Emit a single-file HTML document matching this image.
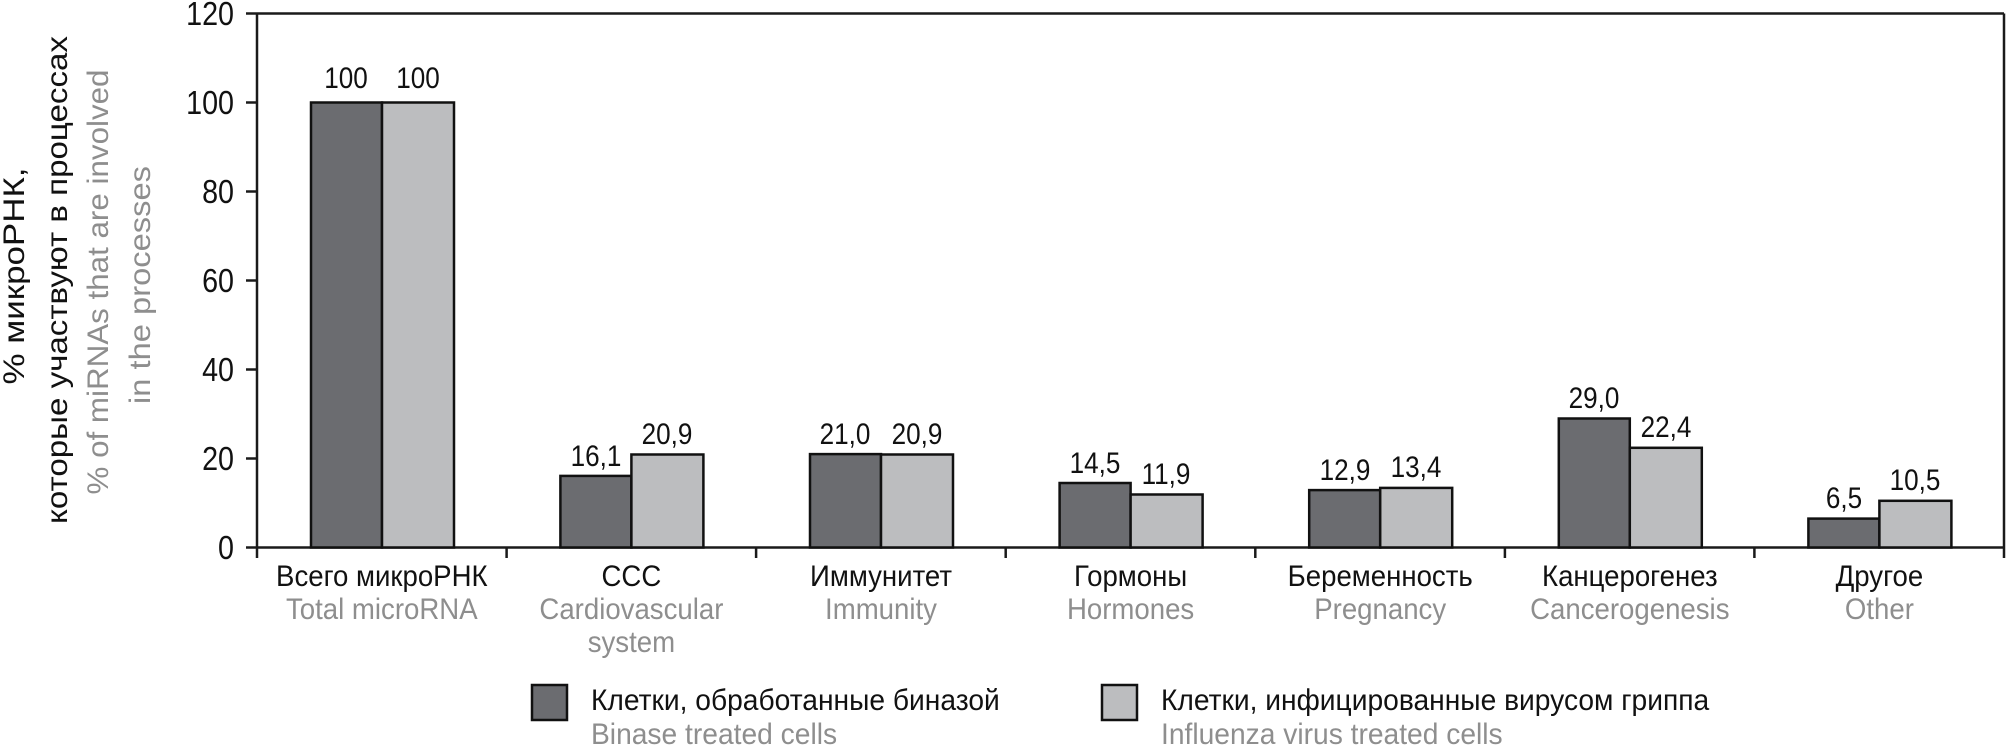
<!DOCTYPE html>
<html><head><meta charset="utf-8"><style>
html,body{margin:0;padding:0;background:#fff;}
svg{display:block;}
text{font-family:"Liberation Sans","DejaVu Sans",sans-serif;}
</style></head><body>
<svg width="2006" height="752" viewBox="0 0 2006 752" xmlns="http://www.w3.org/2000/svg">
<g stroke="#1a1a1a" stroke-width="2.5" fill="none">
<line x1="257" y1="13.5" x2="2004" y2="13.5"/>
<line x1="257" y1="13.5" x2="257" y2="558"/>
<line x1="2004" y1="13.5" x2="2004" y2="558"/>
<line x1="246" y1="547.5" x2="2004" y2="547.5"/>
<line x1="246" y1="13.5" x2="257" y2="13.5"/>
<line x1="246" y1="102.5" x2="257" y2="102.5"/>
<line x1="246" y1="191.5" x2="257" y2="191.5"/>
<line x1="246" y1="280.5" x2="257" y2="280.5"/>
<line x1="246" y1="369.5" x2="257" y2="369.5"/>
<line x1="246" y1="458.5" x2="257" y2="458.5"/>
<line x1="506.6" y1="547" x2="506.6" y2="558"/>
<line x1="756.1" y1="547" x2="756.1" y2="558"/>
<line x1="1005.7" y1="547" x2="1005.7" y2="558"/>
<line x1="1255.3" y1="547" x2="1255.3" y2="558"/>
<line x1="1504.9" y1="547" x2="1504.9" y2="558"/>
<line x1="1754.4" y1="547" x2="1754.4" y2="558"/>
</g>
<g font-size="33" text-anchor="end" fill="#111">
<text transform="translate(234,25) scale(0.87,1)">120</text>
<text transform="translate(234,114) scale(0.87,1)">100</text>
<text transform="translate(234,203) scale(0.87,1)">80</text>
<text transform="translate(234,292) scale(0.87,1)">60</text>
<text transform="translate(234,381) scale(0.87,1)">40</text>
<text transform="translate(234,470) scale(0.87,1)">20</text>
<text transform="translate(234,559) scale(0.87,1)">0</text>
</g>
<g font-size="30" text-anchor="middle">
<text transform="translate(24,276) rotate(-90)" fill="#111" textLength="217" lengthAdjust="spacingAndGlyphs">%  микроРНК,</text>
<text transform="translate(67,280) rotate(-90)" fill="#111" textLength="488" lengthAdjust="spacingAndGlyphs">которые участвуют в процессах</text>
<text transform="translate(108,282) rotate(-90)" fill="#8e8e8e" textLength="425" lengthAdjust="spacingAndGlyphs">% of miRNAs that are involved</text>
<text transform="translate(150,285) rotate(-90)" fill="#8e8e8e" textLength="238" lengthAdjust="spacingAndGlyphs">in the processes</text>
</g>
<g stroke="#111" stroke-width="2.5">
<rect x="311" y="102.5" width="71" height="445" fill="#6b6c70"/>
<rect x="382" y="102.5" width="72" height="445" fill="#bcbdbf"/>
<rect x="560.4" y="475.9" width="71" height="71.6" fill="#6b6c70"/>
<rect x="631.4" y="454.5" width="72" height="93" fill="#bcbdbf"/>
<rect x="810" y="454.1" width="71" height="93.4" fill="#6b6c70"/>
<rect x="881" y="454.5" width="72" height="93" fill="#bcbdbf"/>
<rect x="1059.6" y="483" width="71" height="64.5" fill="#6b6c70"/>
<rect x="1130.6" y="494.5" width="72" height="53" fill="#bcbdbf"/>
<rect x="1309.2" y="490.1" width="71" height="57.4" fill="#6b6c70"/>
<rect x="1380.2" y="487.9" width="72" height="59.6" fill="#bcbdbf"/>
<rect x="1558.8" y="418.5" width="71" height="129" fill="#6b6c70"/>
<rect x="1629.8" y="447.8" width="72" height="99.7" fill="#bcbdbf"/>
<rect x="1808.4" y="518.6" width="71" height="28.9" fill="#6b6c70"/>
<rect x="1879.4" y="500.8" width="72" height="46.7" fill="#bcbdbf"/>
</g>
<g font-size="30" text-anchor="middle" fill="#111">
<text transform="translate(346,88) scale(0.87,1)">100</text><text transform="translate(418,88) scale(0.87,1)">100</text>
<text transform="translate(596,466) scale(0.87,1)">16,1</text><text transform="translate(667,444) scale(0.87,1)">20,9</text>
<text transform="translate(845,444) scale(0.87,1)">21,0</text><text transform="translate(917,444) scale(0.87,1)">20,9</text>
<text transform="translate(1095,473) scale(0.87,1)">14,5</text><text transform="translate(1166,484) scale(0.87,1)">11,9</text>
<text transform="translate(1345,480) scale(0.87,1)">12,9</text><text transform="translate(1416,477) scale(0.87,1)">13,4</text>
<text transform="translate(1594,408) scale(0.87,1)">29,0</text><text transform="translate(1666,437) scale(0.87,1)">22,4</text>
<text transform="translate(1844,508) scale(0.87,1)">6,5</text><text transform="translate(1915,490) scale(0.87,1)">10,5</text>
</g>
<g font-size="30" text-anchor="middle">
<g fill="#111">
<text transform="translate(381.8,586) scale(0.92,1)">Всего микроРНК</text>
<text transform="translate(631.4,586) scale(0.92,1)">ССС</text>
<text transform="translate(881,586) scale(0.92,1)">Иммунитет</text>
<text transform="translate(1130.6,586) scale(0.92,1)">Гормоны</text>
<text transform="translate(1380.2,586) scale(0.92,1)">Беременность</text>
<text transform="translate(1629.8,586) scale(0.92,1)">Канцерогенез</text>
<text transform="translate(1879.4,586) scale(0.92,1)">Другое</text>
</g>
<g fill="#8e8e8e">
<text transform="translate(381.8,619) scale(0.92,1)">Total microRNA</text>
<text transform="translate(631.4,619) scale(0.92,1)">Cardiovascular</text>
<text transform="translate(631.4,652) scale(0.92,1)">system</text>
<text transform="translate(881,619) scale(0.92,1)">Immunity</text>
<text transform="translate(1130.6,619) scale(0.92,1)">Hormones</text>
<text transform="translate(1380.2,619) scale(0.92,1)">Pregnancy</text>
<text transform="translate(1629.8,619) scale(0.92,1)">Cancerogenesis</text>
<text transform="translate(1879.4,619) scale(0.92,1)">Other</text>
</g>
</g>
<rect x="532" y="685" width="35" height="35" fill="#6b6c70" stroke="#111" stroke-width="2.5"/>
<rect x="1102" y="685" width="35" height="35" fill="#bcbdbf" stroke="#111" stroke-width="2.5"/>
<g font-size="30">
<text transform="translate(591,710) scale(0.94,1)" fill="#111">Клетки, обработанные биназой</text>
<text transform="translate(591,744) scale(0.94,1)" fill="#8e8e8e">Binase treated cells</text>
<text transform="translate(1161,710) scale(0.94,1)" fill="#111">Клетки, инфицированные вирусом гриппа</text>
<text transform="translate(1161,744) scale(0.94,1)" fill="#8e8e8e">Influenza virus treated cells</text>
</g>
</svg>
</body></html>
